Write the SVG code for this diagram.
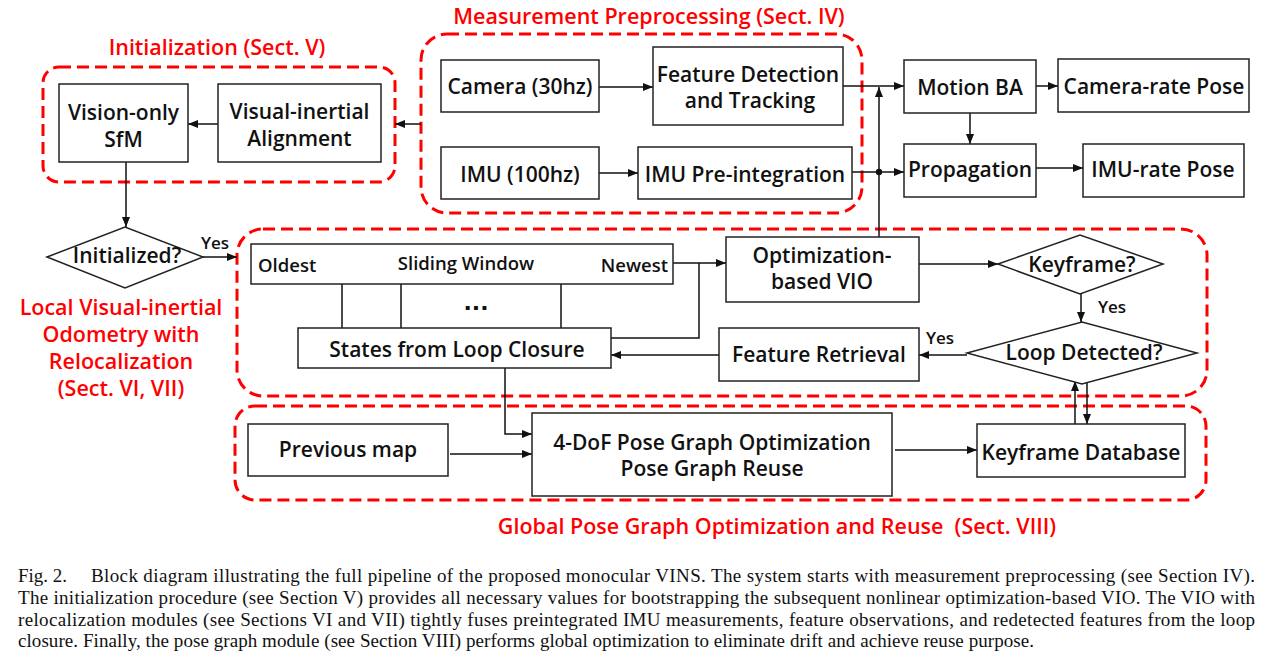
<svg xmlns="http://www.w3.org/2000/svg" width="1274" height="658" viewBox="0 0 1274 658">
<style>
.box{fill:#fff;stroke:#222;stroke-width:1.5}
.t{font-family:"Open Sans","Noto Sans",sans-serif;font-weight:600;font-size:21px;fill:#111;text-anchor:middle}
.s{font-size:18.5px}
.y{font-family:"Open Sans","Noto Sans",sans-serif;font-weight:600;font-size:17px;fill:#111}
.grp{fill:none;stroke:#f00;stroke-width:3;stroke-dasharray:12 6}
.rt{font-family:"Open Sans","Noto Sans",sans-serif;font-weight:600;font-size:21.5px;fill:#f00;text-anchor:middle}
.c{fill:none;stroke:#111;stroke-width:1.5}
.a{marker-end:url(#ah)}
.cap{font-family:"Liberation Serif","Times New Roman",serif;font-size:19px;fill:#111}
</style>
<defs>
<marker id="ah" viewBox="0 0 10 8" refX="10" refY="4" markerWidth="10" markerHeight="8" markerUnits="userSpaceOnUse" orient="auto"><path d="M0,0 L10,4 L0,8 z" fill="#111"/></marker>
</defs>
<rect width="1274" height="658" fill="#fff"/>

<g id="groups">
<rect class="grp" x="43" y="67" width="352" height="115" rx="16"/>
<text class="rt" x="217" y="55">Initialization (Sect. V)</text>
<rect class="grp" x="421" y="34" width="441" height="179" rx="26"/>
<text class="rt" x="649" y="24">Measurement Preprocessing (Sect. IV)</text>
<rect class="grp" x="237" y="229" width="970" height="167" rx="26"/>
<text class="rt" x="121" y="315">Local Visual-inertial</text>
<text class="rt" x="121" y="342">Odometry with</text>
<text class="rt" x="121" y="369">Relocalization</text>
<text class="rt" x="121" y="396">(Sect. VI, VII)</text>
<rect class="grp" x="235" y="406" width="971" height="94" rx="20"/>
<text class="rt" x="777" y="534">Global Pose Graph Optimization and Reuse&#160; (Sect. VIII)</text>
</g>

<g id="connectors">
<path class="c a" d="M599,87 H653"/>
<path class="c a" d="M599,173 H638"/>
<path class="c a" d="M843,86 H904"/>
<path class="c a" d="M852,172 H904"/>
<path class="c a" d="M879,237 V87"/>
<circle cx="879" cy="172" r="3.2" fill="#111"/>
<path class="c a" d="M1036,86 H1058"/>
<path class="c a" d="M970,113 V144"/>
<path class="c a" d="M1032,168 H1083"/>
<path class="c a" d="M421,124 H395"/>
<path class="c a" d="M218,124 H188"/>
<path class="c a" d="M126,162 V227"/>
<path class="c a" d="M203,257 H237"/>
<path class="c a" d="M673,263 H726"/>
<path class="c" d="M699,263 V338 H611"/>
<path class="c a" d="M719,355 H611"/>
<path class="c a" d="M919,264 H998"/>
<path class="c a" d="M1081,294 V322"/>
<path class="c a" d="M967,355 H919"/>
<path class="c a" d="M1075,424 V381"/>
<path class="c a" d="M1087,382 V424"/>
<path class="c a" d="M895,450 H977"/>
<path class="c a" d="M450,454 H532"/>
<path class="c a" d="M505,368 V434 H532"/>
<path class="c" d="M342,284 V328 M401,284 V328 M561,284 V328"/>
</g>

<g id="sfm"><rect class="box" x="59" y="84" width="129" height="78"/><text class="t" x="123.5" y="120">Vision-only</text><text class="t" x="123.5" y="147">SfM</text></g>
<g id="alignment"><rect class="box" x="218" y="84" width="163" height="78"/><text class="t" x="299.5" y="119">Visual-inertial</text><text class="t" x="299.5" y="146">Alignment</text></g>
<g id="camera"><rect class="box" x="441" y="60" width="158" height="52"/><text class="t" x="520" y="94">Camera (30hz)</text></g>
<g id="feature"><rect class="box" x="653" y="47" width="190" height="78"/><text class="t" x="748" y="82">Feature Detection</text><text class="t" x="750" y="108">and Tracking</text></g>
<g id="imu"><rect class="box" x="441" y="147" width="158" height="52"/><text class="t" x="520" y="182">IMU (100hz)</text></g>
<g id="preint"><rect class="box" x="638" y="147" width="214" height="52"/><text class="t" x="745" y="182">IMU Pre-integration</text></g>
<g id="motionba"><rect class="box" x="904" y="60" width="132" height="53"/><text class="t" x="970" y="95">Motion BA</text></g>
<g id="camrate"><rect class="box" x="1058" y="59" width="191" height="53"/><text class="t" x="1154" y="94">Camera-rate Pose</text></g>
<g id="propagation"><rect class="box" x="904" y="144" width="132" height="53"/><text class="t" x="970" y="177">Propagation</text></g>
<g id="imurate"><rect class="box" x="1083" y="144" width="161" height="53"/><text class="t" x="1163" y="177">IMU-rate Pose</text></g>
<g id="initialized"><polygon class="box" points="47,257 125,227 203,257 125,288"/><text class="t" x="127" y="263">Initialized?</text><text class="y" x="201" y="249">Yes</text></g>
<g id="window"><rect class="box" x="251" y="244" width="422" height="40"/><text class="t s" x="258" y="272" style="text-anchor:start">Oldest</text><text class="t s" x="466" y="270">Sliding Window</text><text class="t s" x="668" y="272" style="text-anchor:end">Newest</text><text x="476" y="310" style="font-family:'DejaVu Sans',sans-serif;font-weight:700;font-size:22px;fill:#111;text-anchor:middle">...</text></g>
<g id="states"><rect class="box" x="298" y="328" width="313" height="40"/><text class="t" x="457" y="357">States from Loop Closure</text></g>
<g id="vio"><rect class="box" x="726" y="237" width="193" height="65"/><text class="t" x="822" y="263">Optimization-</text><text class="t" x="822" y="289">based VIO</text></g>
<g id="keyframe"><polygon class="box" points="998,264 1080,235 1163,264 1080,294"/><text class="t" x="1082" y="272">Keyframe?</text><text class="y" x="1098" y="313">Yes</text></g>
<g id="loop"><polygon class="box" points="967,353 1082,322 1197,353 1082,384"/><text class="t" x="1084" y="360">Loop Detected?</text><text class="y" x="926" y="344">Yes</text></g>
<g id="retrieval"><rect class="box" x="719" y="328" width="200" height="53"/><text class="t" x="819" y="362">Feature Retrieval</text></g>
<g id="prevmap"><rect class="box" x="248" y="424" width="200" height="52"/><text class="t" x="348" y="457">Previous map</text></g>
<g id="posegraph"><rect class="box" x="532" y="413" width="360" height="83"/><text class="t" x="712" y="450">4-DoF Pose Graph Optimization</text><text class="t" x="712" y="476">Pose Graph Reuse</text></g>
<g id="database"><rect class="box" x="977" y="424" width="208" height="53"/><text class="t" x="1081" y="460">Keyframe Database</text></g>

<g id="caption">
<text class="cap" x="18" y="582">Fig. 2.</text>
<text class="cap" x="91" y="582" textLength="1164" lengthAdjust="spacing">Block diagram illustrating the full pipeline of the proposed monocular VINS. The system starts with measurement preprocessing (see Section IV).</text>
<text class="cap" x="18" y="604" textLength="1237" lengthAdjust="spacing">The initialization procedure (see Section V) provides all necessary values for bootstrapping the subsequent nonlinear optimization-based VIO. The VIO with</text>
<text class="cap" x="18" y="626" textLength="1237" lengthAdjust="spacing">relocalization modules (see Sections VI and VII) tightly fuses preintegrated IMU measurements, feature observations, and redetected features from the loop</text>
<text class="cap" x="18" y="647" textLength="1016" lengthAdjust="spacing">closure. Finally, the pose graph module (see Section VIII) performs global optimization to eliminate drift and achieve reuse purpose.</text>
</g>
</svg>
